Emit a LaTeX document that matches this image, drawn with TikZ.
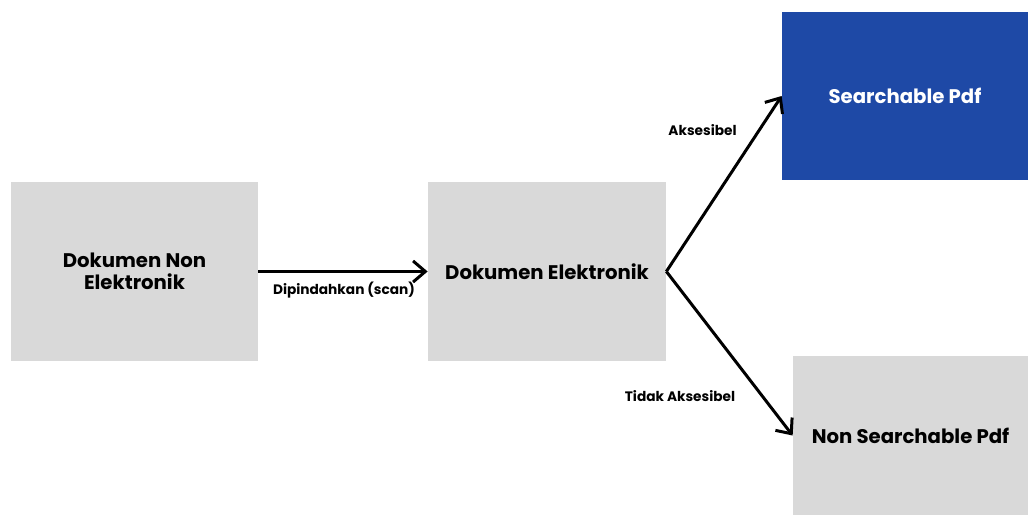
\documentclass[tikz,border=0pt]{standalone}
\usepackage{fontspec}
\setmainfont{Poppins}
\usetikzlibrary{arrows.meta,positioning}
\definecolor{boxgray}{HTML}{D9D9D9}
\definecolor{pdfblue}{HTML}{1E49A6}

\begin{document}
\begin{tikzpicture}[
  docbox/.style={rectangle, fill=boxgray, inner sep=2pt, align=center, font=\fontsize{11.2}{12.5}\selectfont\bfseries},
  flow/.style={line width=1.7pt, -{Straight Barb[length=7pt, width=12pt, line width=1.7pt]}},
  lbl/.style={font=\fontsize{7.8}{9}\selectfont\bfseries}
]
  \useasboundingbox (0,0) rectangle (20.56,10.3);
  % boxes
  \node[docbox, minimum width=4.94cm, minimum height=3.58cm] (nonel) at (2.69,4.87) {Dokumen Non\\Elektronik};
  \node[docbox, minimum width=4.76cm, minimum height=3.58cm] (elek) at (10.94,4.87) {Dokumen Elektronik};
  \node[docbox, fill=pdfblue, text=white, minimum width=4.92cm, minimum height=3.36cm] (search) at (18.10,8.38) {Searchable Pdf};
  \node[docbox, minimum width=4.70cm, minimum height=3.18cm] (nonsearch) at (18.21,1.59) {Non Searchable Pdf};
  % arrows
  \draw[flow] (nonel.east) -- (elek.west);
  \draw[flow] (elek.east) -- (search.west);
  \draw[flow] (elek.east) -- (nonsearch.west);
  % labels
  \node[lbl] (scan) at (6.88,4.5) {Dipindahkan (scan)};
  \node[lbl] (akses) at (14.05,7.70) {Aksesibel};
  \node[lbl] (tidak) at (13.6,2.38) {Tidak Aksesibel};
\end{tikzpicture}
\end{document}
